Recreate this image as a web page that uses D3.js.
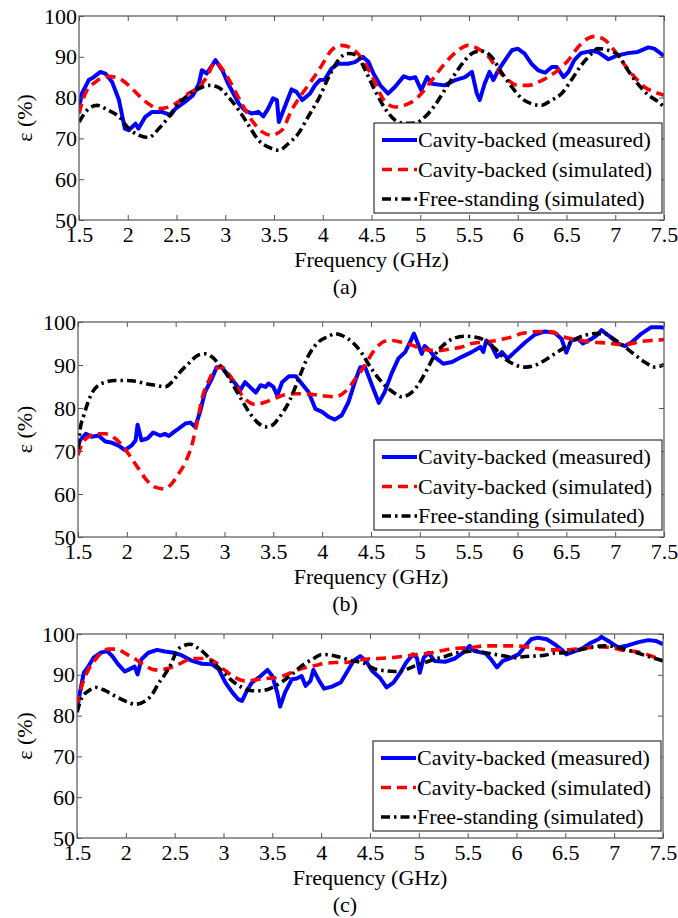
<!DOCTYPE html>
<html>
<head>
<meta charset="utf-8">
<script src="https://cdn.jsdelivr.net/npm/d3@7"></script>
<style>
  body { margin: 0; background: #fff; }
  svg text { font-family: "Liberation Serif", "Times New Roman", Times, "DejaVu Serif", serif !important; fill: #000; }
</style>
</head>
<body>
<div id="chart"></div>
<script>
/*
* Absorption efficiency vs frequency, three panels (a) (b) (c)
*/

var freqTicks = [1.5, 2, 2.5, 3, 3.5, 4, 4.5, 5, 5.5, 6, 6.5, 7, 7.5];
var epsTicks = [50, 60, 70, 80, 90, 100];
var seriesNames = ["Cavity-backed (measured)", "Cavity-backed (simulated)", "Free-standing (simulated)"];
var panelLabels = ["(a)", "(b)", "(c)"];

// panel (a)  [GHz, %]
var measuredA = [[1.50,77.5],[1.53,81],[1.60,84.3],[1.65,85],[1.72,86.3],[1.77,85.9],[1.84,83.8],[1.91,79.4],[1.97,72.4],[2.01,72],[2.08,73.6],[2.11,72.4],[2.18,75.3],[2.25,76.5],[2.35,76.5],[2.44,75.7],[2.49,77.3],[2.59,79],[2.67,80.6],[2.73,83.4],[2.76,86.7],[2.81,85.9],[2.90,89.2],[2.97,86.7],[3.03,83.4],[3.14,78.5],[3.20,76.9],[3.27,76.1],[3.34,76.5],[3.39,75.4],[3.44,77.3],[3.49,79.8],[3.53,79.4],[3.55,74],[3.61,77.7],[3.68,82],[3.73,81.4],[3.79,79.4],[3.82,80],[3.87,81],[3.92,83],[3.97,84.3],[4.02,84.4],[4.09,87.1],[4.16,88.3],[4.26,88.3],[4.33,88.7],[4.41,90],[4.47,88.7],[4.52,85.9],[4.59,83],[4.67,81],[4.74,82.6],[4.83,85.2],[4.89,84.7],[4.95,85],[5.01,81.8],[5.07,85],[5.12,83.4],[5.25,83],[5.36,84.3],[5.46,85],[5.53,86.3],[5.58,81],[5.61,79.4],[5.66,83.4],[5.71,86.3],[5.75,84.3],[5.80,86.7],[5.87,89.2],[5.94,91.6],[6.00,92],[6.07,90.8],[6.14,88.3],[6.21,86.7],[6.28,86.1],[6.35,87.5],[6.40,87.5],[6.47,85],[6.52,86.3],[6.58,89.2],[6.65,90.9],[6.76,91.4],[6.82,91.2],[6.93,89.4],[7.03,90.4],[7.13,90.9],[7.23,91.2],[7.34,92.3],[7.40,92],[7.49,90.4],[7.50,90.2]];
var simulatedA = [[1.50,76.1],[1.565,81],[1.667,83.8],[1.80,85.2],[1.91,84.7],[2.01,83],[2.11,80.6],[2.21,78.5],[2.32,77.3],[2.42,77.7],[2.52,79],[2.62,81],[2.73,82.6],[2.81,85],[2.90,88.7],[2.98,86.7],[3.07,83],[3.17,78.5],[3.27,74.5],[3.38,71.6],[3.47,70.8],[3.58,72],[3.68,76.9],[3.79,81],[3.89,84.3],[3.99,87.9],[4.09,91.6],[4.19,92.8],[4.30,92],[4.40,89.6],[4.50,85.5],[4.64,79],[4.74,77.7],[4.88,78.5],[4.98,80.2],[5.12,84.3],[5.25,88.3],[5.39,91.6],[5.49,92.8],[5.59,92],[5.70,90],[5.80,86.7],[5.90,84.3],[6.00,83],[6.11,83],[6.21,83.8],[6.31,85],[6.41,86.7],[6.52,89.2],[6.62,92.4],[6.72,94.5],[6.79,95],[6.89,94.2],[6.99,91.6],[7.10,87.9],[7.20,85],[7.30,82.6],[7.40,81.4],[7.50,80.6]];
var freeA = [[1.50,74],[1.60,77.3],[1.684,78.1],[1.80,76.9],[1.91,75.3],[2.01,72.4],[2.11,70.8],[2.21,70.2],[2.32,72.4],[2.42,75.3],[2.52,78.5],[2.62,80.6],[2.73,82.2],[2.83,83],[2.93,82.5],[3.03,80.2],[3.14,76.9],[3.24,73.2],[3.34,69.6],[3.44,67.9],[3.55,67.1],[3.65,68.8],[3.75,71.2],[3.85,75.3],[3.96,79.8],[4.06,85],[4.16,89.2],[4.26,90.8],[4.35,90.4],[4.43,87],[4.53,82],[4.64,77.3],[4.74,74.5],[4.84,73.7],[4.95,73.8],[5.05,75.3],[5.15,78.1],[5.25,81.8],[5.36,85.9],[5.46,89.2],[5.56,91.2],[5.63,91.4],[5.73,90],[5.83,86.3],[5.94,82.6],[6.04,79.8],[6.14,78.5],[6.24,78.1],[6.35,79.4],[6.45,81],[6.55,84.3],[6.65,87.9],[6.76,90.8],[6.82,92],[6.93,91.6],[7.03,90.4],[7.13,86.7],[7.23,83.4],[7.34,80.6],[7.44,79],[7.50,77.7]];

// panel (b)
var measuredB = [[1.50,70.9],[1.52,72.5],[1.58,74],[1.64,73.3],[1.71,73.6],[1.78,72.2],[1.85,71.9],[1.92,71.2],[1.98,70.2],[2.05,71.3],[2.09,72.5],[2.11,76.1],[2.15,72.5],[2.21,72.9],[2.27,74.3],[2.34,73.6],[2.39,74],[2.43,73.5],[2.48,74.4],[2.53,75.2],[2.60,76.4],[2.65,76.6],[2.70,75.6],[2.75,79.1],[2.80,83.7],[2.87,86.8],[2.92,89.5],[2.97,89.5],[3.04,87.6],[3.11,85.7],[3.16,84.1],[3.21,86],[3.26,84.9],[3.32,83.6],[3.37,85.3],[3.42,84.9],[3.45,85.7],[3.50,84.9],[3.54,82.9],[3.59,86],[3.66,87.4],[3.73,87.4],[3.79,85.7],[3.86,83.7],[3.93,79.8],[4.00,79.1],[4.07,77.9],[4.13,77.3],[4.20,78.3],[4.27,81.4],[4.34,86.4],[4.39,89.5],[4.44,89.5],[4.51,85.3],[4.58,81.2],[4.64,83.7],[4.71,88],[4.78,91.5],[4.85,93],[4.90,95.3],[4.94,97.3],[4.98,95],[5.02,92.6],[5.05,94.4],[5.10,93.4],[5.15,91.9],[5.24,90.3],[5.33,90.7],[5.43,91.9],[5.53,93],[5.62,94.2],[5.65,93],[5.68,95.7],[5.73,94.6],[5.79,91.9],[5.84,93],[5.90,91.5],[5.97,93],[6.08,95.3],[6.18,97.1],[6.28,97.8],[6.38,97.5],[6.45,96.1],[6.50,92.9],[6.55,95.7],[6.62,96.1],[6.67,95],[6.76,96.1],[6.81,96.9],[6.86,98.1],[6.93,96.9],[7.03,95],[7.10,94.4],[7.17,95.3],[7.27,97.3],[7.37,98.8],[7.47,98.8],[7.50,98.6]];
var simulatedB = [[1.50,69],[1.54,71.7],[1.61,73.3],[1.71,74],[1.78,74],[1.88,72.9],[1.98,70.5],[2.05,68.2],[2.12,65.9],[2.19,63.6],[2.29,61.6],[2.38,61.2],[2.46,62.4],[2.53,64.7],[2.60,67.4],[2.67,71.7],[2.72,76.7],[2.77,82.2],[2.84,86.4],[2.91,89.1],[2.97,89.5],[3.04,88],[3.11,85.7],[3.18,82.9],[3.25,81.4],[3.32,80.8],[3.42,81.4],[3.52,82.3],[3.62,83.1],[3.73,83.3],[3.83,83.3],[3.93,83.1],[4.03,82.8],[4.13,82.6],[4.24,83.9],[4.34,86.8],[4.44,90],[4.52,93],[4.58,94.6],[4.64,95.5],[4.71,95.7],[4.81,95.3],[4.92,94.6],[5.02,93.8],[5.12,93.4],[5.22,93.4],[5.33,93.8],[5.43,94.2],[5.53,95],[5.63,95.3],[5.73,95.5],[5.84,96],[5.94,96.5],[6.04,97.3],[6.14,97.7],[6.25,97.8],[6.35,97.7],[6.45,96.7],[6.55,96.1],[6.66,95.7],[6.76,95.3],[6.86,95.2],[6.96,95],[7.06,94.7],[7.17,95],[7.27,95.5],[7.37,95.7],[7.50,95.9]];
var freeB = [[1.50,70.5],[1.52,74.8],[1.56,78.3],[1.61,81.8],[1.66,84.1],[1.71,85.3],[1.78,86],[1.88,86.4],[1.98,86.4],[2.09,86.2],[2.19,85.7],[2.29,85.3],[2.39,84.9],[2.46,86],[2.53,88],[2.63,90.3],[2.74,92.4],[2.80,92.6],[2.87,91.9],[2.94,90.3],[3.04,87.2],[3.15,82.9],[3.25,79.1],[3.35,76.4],[3.42,75.6],[3.49,76],[3.55,77.5],[3.66,81.4],[3.76,86.8],[3.86,92.2],[3.96,95.3],[4.07,96.7],[4.13,97.3],[4.20,96.9],[4.31,95.3],[4.41,92.6],[4.48,90],[4.54,88],[4.64,85.3],[4.75,83.3],[4.81,82.6],[4.92,83.7],[4.98,85.3],[5.07,88.8],[5.15,92.2],[5.26,95],[5.36,96.3],[5.46,96.7],[5.56,96.5],[5.67,95.7],[5.77,93.8],[5.87,91.5],[5.97,90.1],[6.08,89.5],[6.18,89.9],[6.28,91.1],[6.38,92.6],[6.49,94.2],[6.59,96],[6.69,96.9],[6.79,97.3],[6.89,97.3],[6.99,96],[7.10,94.2],[7.20,92.4],[7.30,90.7],[7.41,89.5],[7.50,90.1]];

// panel (c)
var measuredC = [[1.50,81.2],[1.53,85.7],[1.57,90.5],[1.62,92.2],[1.67,94.2],[1.74,95.4],[1.81,95.8],[1.86,94.6],[1.92,92.6],[1.99,90.8],[2.04,91.4],[2.09,92],[2.12,90.1],[2.16,93.8],[2.23,95.4],[2.32,96.1],[2.40,95.7],[2.49,95.4],[2.57,94.8],[2.68,93.4],[2.78,92.7],[2.88,92.6],[2.95,91.4],[3.02,88.1],[3.09,85.7],[3.15,84],[3.19,83.6],[3.24,86.1],[3.29,88.1],[3.36,89.3],[3.45,91.2],[3.50,89.7],[3.55,85.7],[3.58,82.2],[3.63,85.7],[3.70,88.9],[3.75,89.1],[3.80,89.7],[3.84,87.3],[3.89,88.5],[3.92,91.2],[3.98,88.5],[4.03,86.6],[4.11,87.1],[4.20,88.1],[4.26,90.5],[4.33,93.4],[4.40,94.6],[4.46,93.4],[4.52,91],[4.60,89.3],[4.67,86.9],[4.74,88.1],[4.81,90.5],[4.87,93],[4.94,95],[4.98,94.2],[5.01,90.5],[5.05,94.2],[5.10,95.4],[5.16,93.4],[5.27,93.2],[5.37,94],[5.45,95.4],[5.52,97.1],[5.57,95.8],[5.68,95.3],[5.74,93.8],[5.80,91.8],[5.86,93.4],[5.95,94.2],[6.02,95],[6.09,97.1],[6.15,98.7],[6.22,99.1],[6.31,98.7],[6.39,97.5],[6.46,96.2],[6.51,95],[6.60,95.8],[6.67,96.4],[6.75,97.7],[6.84,98.7],[6.87,99.3],[6.94,98.3],[7.04,96.7],[7.14,97.2],[7.25,98],[7.35,98.5],[7.43,98.3],[7.50,97.5]];
var simulatedC = [[1.50,82.4],[1.55,87.3],[1.62,91.4],[1.69,93.8],[1.75,95.4],[1.82,96.3],[1.91,96.3],[1.99,95.3],[2.10,93.8],[2.20,92.2],[2.30,91.2],[2.40,91.4],[2.51,92.2],[2.61,93.4],[2.71,94],[2.81,94],[2.92,93],[3.02,91],[3.12,89.3],[3.22,88.5],[3.33,88.8],[3.43,89.1],[3.53,89.3],[3.63,89.9],[3.74,91],[3.84,91.8],[3.94,92.3],[4.04,92.8],[4.14,93],[4.25,93],[4.35,93.4],[4.45,93.8],[4.58,94],[4.72,94.2],[4.86,94.6],[4.99,95],[5.13,95.4],[5.27,96.1],[5.40,96.5],[5.54,96.7],[5.68,97.1],[5.81,97.1],[5.95,97.1],[6.09,96.9],[6.22,96.4],[6.36,96.1],[6.50,96.1],[6.63,96.4],[6.77,96.7],[6.87,96.8],[6.97,96.7],[7.07,96.1],[7.18,95.8],[7.28,95.4],[7.38,94.6],[7.50,93.4]];
var freeC = [[1.50,80.8],[1.55,84.4],[1.62,86.1],[1.70,86.9],[1.79,86.1],[1.89,84.8],[1.99,83.6],[2.10,82.8],[2.20,83.6],[2.27,85.2],[2.33,87.7],[2.40,90.1],[2.47,93],[2.52,95.8],[2.59,97.1],[2.66,97.5],[2.73,96.7],[2.80,95.4],[2.88,93.4],[2.98,91],[3.09,88.5],[3.19,86.9],[3.29,86.1],[3.39,86.1],[3.50,86.9],[3.60,88.3],[3.70,90.1],[3.80,92.2],[3.91,93.8],[4.01,95],[4.11,94.8],[4.21,94.2],[4.32,93.4],[4.42,93],[4.55,91.4],[4.65,91],[4.75,90.8],[4.86,91.2],[4.96,92.2],[5.06,93],[5.16,93.8],[5.27,94.5],[5.37,95.3],[5.47,95.6],[5.57,95.9],[5.68,95.4],[5.78,95],[5.88,94.6],[5.98,94.2],[6.09,94.5],[6.19,94.6],[6.29,94.8],[6.39,95.3],[6.50,95.4],[6.60,95.9],[6.70,96.4],[6.80,96.9],[6.90,97.1],[7.01,96.9],[7.11,96.2],[7.21,95.6],[7.31,94.8],[7.42,94],[7.50,93.4]];

var width = 678, height = 918;
var fontSize = 22;
var serif = "'Liberation Serif', 'Times New Roman', Times, 'DejaVu Serif', serif";

// line looks: blue solid, red dashed, black dash-dot
var styles = [
  { color: "#0000ff", width: 4, dash: null, curve: d3.curveLinear },
  { color: "#ff0000", width: 3.6, dash: "10,6", curve: d3.curveMonotoneX },
  { color: "#000000", width: 3.6, dash: "9,4,2.5,4", curve: d3.curveMonotoneX }
];

var svg = d3.select("#chart").append("svg")
  .attr("width", width)
  .attr("height", height)
  .style("font-family", serif);

svg.append("rect").attr("width", width).attr("height", height).attr("fill", "#fff");

drawPanel(0, { left: 79, right: 664, top: 16, bottom: 220 }, [measuredA, simulatedA, freeA]);
drawPanel(1, { left: 78, right: 664, top: 322, bottom: 537 }, [measuredB, simulatedB, freeB]);
drawPanel(2, { left: 77, right: 663, top: 634, bottom: 838 }, [measuredC, simulatedC, freeC]);

function drawPanel(idx, box, series) {
  var x = d3.scaleLinear().domain([1.5, 7.5]).range([box.left, box.right]);
  var y = d3.scaleLinear().domain([50, 100]).range([box.bottom, box.top]);
  var g = svg.append("g");

  g.append("clipPath").attr("id", "clip" + idx)
    .append("rect")
    .attr("x", box.left).attr("y", box.top)
    .attr("width", box.right - box.left).attr("height", box.bottom - box.top);

  // curves
  var plot = g.append("g").attr("clip-path", "url(#clip" + idx + ")");
  for (var s = 0; s < series.length; s++) {
    var st = styles[s];
    var line = d3.line()
      .x(function (d) { return x(d[0]); })
      .y(function (d) { return y(d[1]); })
      .curve(st.curve);
    plot.append("path")
      .datum(series[s])
      .attr("d", line)
      .attr("fill", "none")
      .attr("stroke", st.color)
      .attr("stroke-width", st.width)
      .attr("stroke-dasharray", st.dash)
      .attr("stroke-linejoin", "round");
  }

  // axes, ticks pointing inwards on all four sides
  var bottomAxis = g.append("g").attr("transform", "translate(0," + box.bottom + ")")
    .call(d3.axisBottom(x).tickValues(freqTicks).tickSizeInner(-5).tickSizeOuter(0).tickPadding(6.5).tickFormat(d3.format("")));
  var leftAxis = g.append("g").attr("transform", "translate(" + box.left + ",0)")
    .call(d3.axisLeft(y).tickValues(epsTicks).tickSizeInner(-5).tickSizeOuter(0).tickPadding(2));
  var topAxis = g.append("g").attr("transform", "translate(0," + box.top + ")")
    .call(d3.axisTop(x).tickValues(freqTicks).tickSizeInner(-5).tickSizeOuter(0).tickFormat(""));
  var rightAxis = g.append("g").attr("transform", "translate(" + box.right + ",0)")
    .call(d3.axisRight(y).tickValues(epsTicks).tickSizeInner(-5).tickSizeOuter(0).tickFormat(""));

  [bottomAxis, leftAxis, topAxis, rightAxis].forEach(function (a) {
    a.attr("font-family", serif).attr("font-size", fontSize);
    a.select(".domain").remove();
    a.selectAll(".tick line").attr("stroke", "#555");
    a.selectAll("text").attr("fill", "#000");
  });

  g.append("rect")
    .attr("x", box.left).attr("y", box.top)
    .attr("width", box.right - box.left).attr("height", box.bottom - box.top)
    .attr("fill", "none").attr("stroke", "#555").attr("stroke-width", 1.2);

  // labels
  var cx = (box.left + box.right) / 2;
  g.append("text")
    .attr("x", cx).attr("y", box.bottom + 47)
    .attr("text-anchor", "middle")
    .attr("font-size", fontSize)
    .text("Frequency (GHz)");

  g.append("text")
    .attr("transform", "translate(32," + ((box.top + box.bottom) / 2) + ") rotate(-90)")
    .attr("text-anchor", "middle")
    .attr("font-size", fontSize)
    .text("ε (%)");

  g.append("text")
    .attr("x", 345).attr("y", box.bottom + 74)
    .attr("text-anchor", "middle")
    .attr("font-size", fontSize)
    .text(panelLabels[idx]);

  // legend box in lower right corner
  var lw = 288, lh = 90;
  var lx = box.right - 2 - lw, ly = box.bottom - 7 - lh;
  var leg = g.append("g").attr("transform", "translate(" + lx + "," + ly + ")");
  leg.append("rect")
    .attr("width", lw).attr("height", lh)
    .attr("fill", "#fff").attr("stroke", "#333").attr("stroke-width", 1.2);

  for (var k = 0; k < seriesNames.length; k++) {
    var cy = 17 + k * 29.5;
    leg.append("line")
      .attr("x1", 8).attr("x2", 43)
      .attr("y1", cy).attr("y2", cy)
      .attr("stroke", styles[k].color)
      .attr("stroke-width", styles[k].width)
      .attr("stroke-dasharray", styles[k].dash);
    leg.append("text")
      .attr("x", 44).attr("y", cy)
      .attr("dy", "0.33em")
      .attr("font-size", fontSize)
      .text(seriesNames[k]);
  }
}
</script>
</body>
</html>
